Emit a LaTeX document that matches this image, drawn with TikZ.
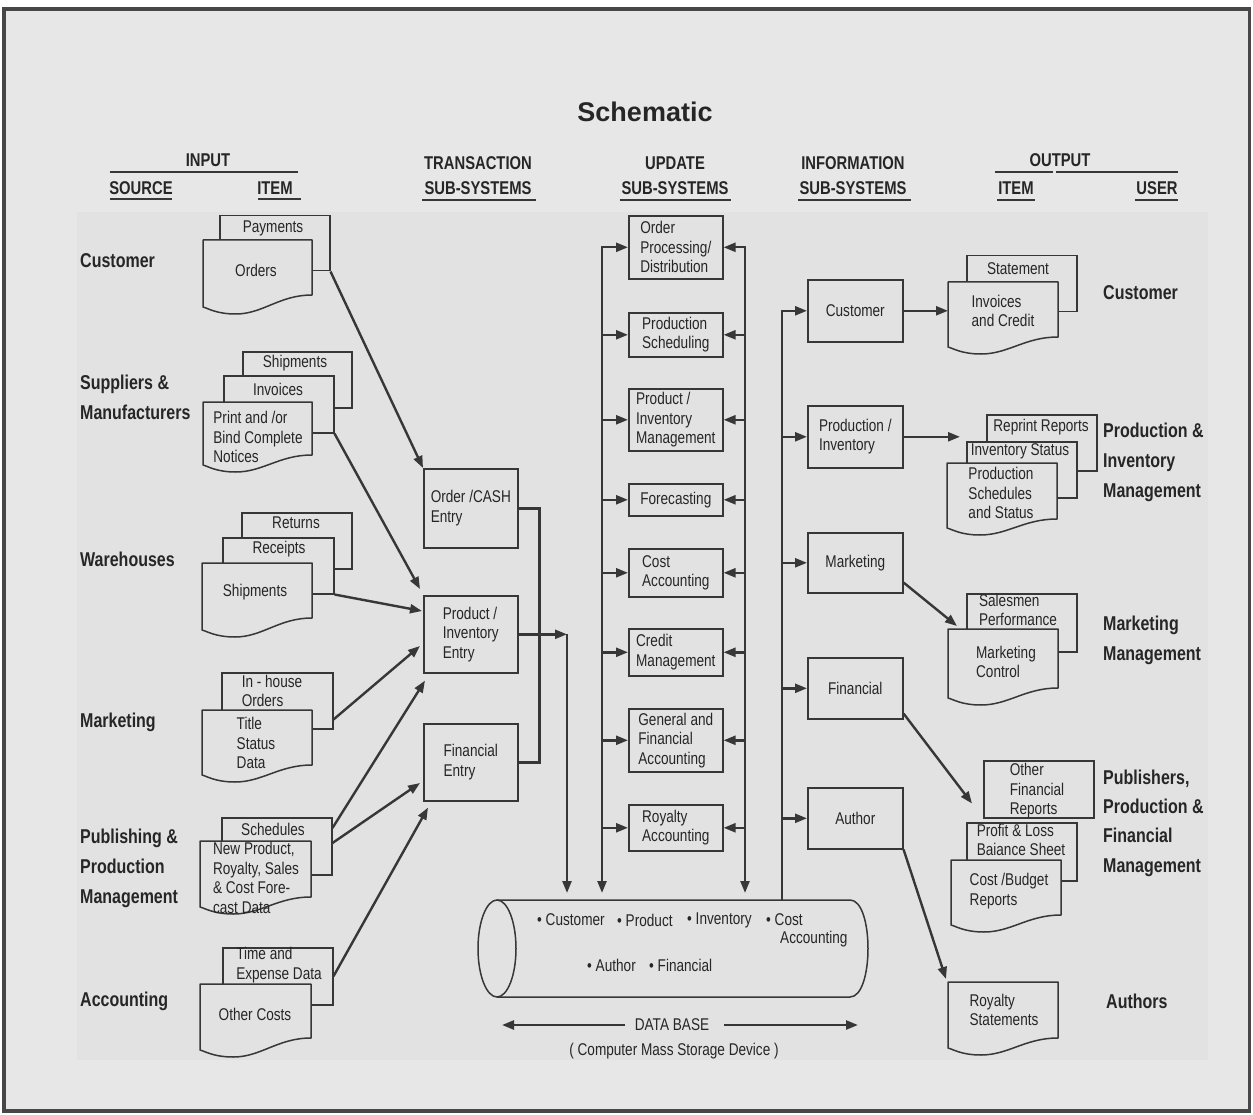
\documentclass[tikz,border=0pt]{standalone}
\usepackage{fontspec}
\setmainfont{Liberation Sans}[FakeStretch=0.8]
\newfontfamily\titlefont{Liberation Sans}
\usetikzlibrary{arrows.meta,calc}
\definecolor{bgout}{RGB}{231,231,231}
\definecolor{bgin}{RGB}{226,226,226}
\definecolor{lc}{RGB}{55,55,55}
\definecolor{tc}{RGB}{38,38,38}
\newcommand\fsz[2]{\fontsize{#1}{#2}\selectfont}
\tikzset{
  txt/.style={text=tc, font=\fsz{17}{19.5}, inner sep=0, align=left},
  hdr/.style={text=tc, font=\bfseries\fsz{18.5}{25}, inner sep=0},
  lab/.style={text=tc, font=\bfseries\fsz{20}{30}, inner sep=0, align=left, anchor=west},
  pbox/.style={draw=lc, line width=1.6, fill=bgin, anchor=north west, text=tc, font=\fsz{17}{19.5}, align=left, inner sep=0},
  bdoc/.style={draw=lc, line width=1.5, fill=bgin, anchor=north west, inner sep=0},
  fdocn/.style={anchor=north west, inner sep=0, outer sep=0},
  docline/.style={draw=lc, line width=1.5, fill=bgin, line join=round},
  uline/.style={draw=lc, line width=1.8},
  conn/.style={draw=lc, line width=2.4},
  tip/.tip={Triangle[length=12pt,width=9pt]},
  arr/.style={conn, -tip},
}
\newcommand\pboxat[6]{\node[pbox, minimum width=#4, minimum height=#5] (#1) at (#2,#3) {#6};}
\newcommand\backdoc[8]{%
  \node[bdoc, minimum width={#4-#2}, minimum height={#5-#3}] (#1) at (#2,#3) {};
  \node[txt] (#1-t) at (#6,#7) {#8};}
\newcommand\frontdoc[9]{%
  \path[docline] (#2,#6) -- (#2,#3) -- (#4,#3) -- (#4,#5)
    .. controls ({#4-0.3*(#4-#2)},#5) and ({#2+0.55*(#4-#2)},{#6+7}) .. ({#2+0.3*(#4-#2)},{#6+7})
    .. controls ({#2+0.12*(#4-#2)},{#6+7}) and ({#2+0.04*(#4-#2)},{#6+1}) .. (#2,#6) -- cycle;
  \node[fdocn, minimum width={#4-#2}, minimum height={#5-#3}] (#1) at (#2,#3) {};
  \node[txt] (#1-t) at (#7,#8) {#9};}
\begin{document}
\begin{tikzpicture}[x=1pt,y=-1pt]
\path[use as bounding box, fill=white] (0,0) rectangle (1253,1115);
\filldraw[fill=bgout, draw=black!72, line width=3.5] (4,9) rectangle (1249.5,1111);
\fill[bgin] (77,212) rectangle (1208,1060);

% title and headings
\node[text=tc, font=\titlefont\bfseries\fsz{27}{30}, inner sep=0] (title) at (645,112) {Schematic};
\node[hdr] (hinput) at (208,160) {INPUT};
\draw[uline] (110,172) -- (298,172);
\node[hdr] (hsource) at (141,188) {SOURCE};
\draw[uline] (110,199) -- (172,199);
\node[hdr] (hitem) at (275,188) {ITEM};
\draw[uline] (258,199) -- (301,199);
\node[hdr] (htrans1) at (478,163) {TRANSACTION};
\node[hdr] (htrans2) at (478,188) {SUB-SYSTEMS};
\draw[uline] (422,200) -- (536,200);
\node[hdr] (hupd1) at (675,163) {UPDATE};
\node[hdr] (hupd2) at (675,188) {SUB-SYSTEMS};
\draw[uline] (620,200) -- (731,200);
\node[hdr] (hinfo1) at (853,163) {INFORMATION};
\node[hdr] (hinfo2) at (853,188) {SUB-SYSTEMS};
\draw[uline] (798,200) -- (911,200);
\node[hdr] (houtput) at (1060,160) {OUTPUT};
\draw[uline] (995,172) -- (1053,172);
\draw[uline] (1056,172) -- (1178,172);
\node[hdr] (hoitem) at (1016,188) {ITEM};
\draw[uline] (997,200) -- (1035,200);
\node[hdr] (houser) at (1157,188) {USER};
\draw[uline] (1135,200) -- (1178,200);

% source labels
\node[lab] (scust) at (80,261) {Customer};
\node[lab] (ssupp) at (80,397) {Suppliers \&\\Manufacturers};
\node[lab] (sware) at (80,559) {Warehouses};
\node[lab] (smkt) at (80,722) {Marketing};
\node[lab] (spub) at (80,868) {Publishing \&\\Production\\Management};
\node[lab] (sacc) at (80,1001) {Accounting};

% user labels
\node[lab] (ucust) at (1103,293) {Customer};
\node[lab] (uprod) at (1103,462) {Production \&\\Inventory\\Management};
\node[lab] (umkt) at (1103,640) {Marketing\\Management};
\node[lab, font=\bfseries\fsz{20}{29.3}] (upub) at (1103,823) {Publishers,\\Production \&\\Financial\\Management};
\node[lab] (uauth) at (1106,1001) {Authors};

% input documents
\backdoc{payments}{219}{215}{329}{270}{273}{228}{Payments}
\frontdoc{orders}{203}{240}{312}{295}{307}{256}{270}{Orders}

\backdoc{shipa}{242}{351}{351}{407}{295}{363}{Shipments}
\backdoc{invoices}{223}{375}{333}{432}{278}{389}{Invoices}
\frontdoc{printbind}{203}{402}{312}{455}{465}{258}{437}{Print and /or\\Bind Complete\\Notices}

\backdoc{returns}{241}{512}{351}{568}{296}{523}{Returns}
\backdoc{receipts}{222}{537}{333}{593}{279}{549}{Receipts}
\frontdoc{whship}{202}{563}{312}{618}{630}{255}{592}{Shipments}

\backdoc{inhouse}{221}{672}{332}{728}{272}{691}{\fsz{17}{18}In - house\\Orders}
\frontdoc{titlestat}{202}{710}{312}{765}{775}{256}{743}{Title\\Status\\Data}

\backdoc{schedules}{221}{817}{331}{874}{273}{829}{Schedules}
\frontdoc{newprod}{200}{841}{311}{897}{907}{256}{878}{\fsz{17}{17.5}New Product,\\Royalty, Sales\\\& Cost Fore-\\cast Data}

\backdoc{timeexp}{222}{947}{332}{1004}{279}{965}{\fsz{17}{17.5}Time and\\Expense Data}
\frontdoc{othercosts}{200}{984}{311}{1038}{1050}{255}{1014}{Other Costs}

% transaction sub-systems
\pboxat{ocash}{423}{468}{94}{79}{Order /CASH\\Entry}
\pboxat{pientry}{423}{595}{94}{77}{Product /\\Inventory\\Entry}
\pboxat{finentry}{423}{723}{94}{77}{Financial\\Entry}

% update sub-systems
\pboxat{ordproc}{628}{215}{94}{63}{Order\\Processing/\\Distribution}
\pboxat{prodsched}{628}{312}{94}{44}{Production\\Scheduling}
\pboxat{pimgmt}{628}{388}{94}{62}{Product /\\Inventory\\Management}
\pboxat{forecast}{628}{483}{94}{32}{Forecasting}
\pboxat{costacc}{628}{548}{94}{48}{Cost\\Accounting}
\pboxat{credit}{628}{628}{94}{47}{Credit\\Management}
\pboxat{genfin}{628}{708}{94}{63}{General and\\Financial\\Accounting}
\pboxat{royacc}{628}{804}{94}{46}{Royalty\\Accounting}

% information sub-systems
\pboxat{icust}{807}{279}{95}{62}{Customer}
\pboxat{iprodinv}{807}{405}{95}{62}{Production /\\Inventory}
\pboxat{imkt}{807}{532}{95}{60}{Marketing}
\pboxat{ifin}{807}{657}{95}{61}{Financial}
\pboxat{iauthor}{807}{787}{95}{61}{Author}

% output documents
\backdoc{statement}{966}{255}{1076}{311}{1018}{269}{Statement}
\frontdoc{invcredit}{948}{282}{1058}{337}{347}{1003}{311}{Invoices\\and Credit}

\backdoc{reprint}{986}{414}{1096}{470}{1041}{427}{Reprint Reports}
\backdoc{invstatus}{966}{441}{1076}{497}{1020}{451}{Inventory Status}
\frontdoc{prodschedout}{947}{463}{1057}{519}{528}{1001}{493}{Production\\Schedules\\and Status}

\backdoc{salesmen}{966}{593}{1076}{651}{1018}{610}{\fsz{17}{18}Salesmen\\Performance}
\frontdoc{mktctrl}{948}{629}{1058}{688}{698}{1006}{662}{Marketing\\Control}

\backdoc{otherfin}{983}{760}{1093}{817}{1037}{791}{Other\\Financial\\Reports}
\backdoc{profitloss}{966}{822}{1076}{880}{1021}{840}{\fsz{17}{18}Profit \& Loss\\Baiance Sheet}
\frontdoc{costbudget}{951}{860}{1061}{915}{925}{1009}{891}{Cost /Budget\\Reports}

\frontdoc{royst}{948}{982}{1058}{1038}{1048}{1004}{1010}{Royalty\\Statements}

% data base
\node[inner sep=0, minimum width=390, minimum height=97, anchor=north west] (db) at (478,900) {};
\draw[lc, line width=1.5] (497,900) -- (850,900) .. controls (874,900) and (874,997) .. (850,997) -- (497,997);
\draw[lc, line width=1.5] (497,948.5) ellipse [x radius=19, y radius=48.5];
\node[txt, anchor=west] (dbc) at (537,920) {\textbullet\ Customer};
\node[txt, anchor=west] (dbp) at (617,920) {\textbullet\ Product};
\node[txt, anchor=west] (dbi) at (687,920) {\textbullet\ Inventory};
\node[txt, anchor=west] (dbk) at (766,920) {\textbullet\ Cost};
\node[txt, anchor=west] (dbk2) at (780,939) {Accounting};
\node[txt, anchor=west] (dba) at (587,965) {\textbullet\ Author};
\node[txt, anchor=west] (dbf) at (649,965) {\textbullet\ Financial};
\node[txt] (dbase) at (672,1025) {DATA BASE};
\coordinate (dbl) at (502,1025);
\coordinate (dbr) at (858,1025);
\draw[arr] ($(dbase.west)+(-10,0)$) -- (dbl);
\draw[arr] ($(dbase.east)+(15,0)$) -- (dbr);
\node[txt] (cmsd) at (674,1051) {( Computer Mass Storage Device )};

% connectors input -> transaction
\draw[arr] (payments.south east) -- (ocash.north west);
\draw[arr] (invoices.south east) -- ($(pientry.north west)+(-3,-6)$);
\draw[arr] (receipts.south east) -- ($(pientry.north west)+(-1,16)$);
\draw[arr] ($(inhouse.south east)+(0,-10)$) -- ($(pientry.north west)+(-3,51)$);
\draw[arr] ($(schedules.north east)+(0,11)$) -- ($(pientry.south west)+(2,7)$);
\draw[arr] ($(schedules.north east)+(0,26)$) -- ($(finentry.north west)+(-3,60)$);
\draw[arr] (timeexp.east) -- ($(finentry.south west)+(5,6)$);

% transaction -> data base
\coordinate (tj) at (567,0);
\draw[conn] (ocash.east) -- ++(21,0) |- (finentry.east);
\draw[arr] (pientry.east) -- (pientry.east -| tj);
\draw[arr, shorten >=7pt] (pientry.east -| tj) -- (tj |- db.north);

% update buses
\coordinate (lb) at (602,0);
\coordinate (rb) at (745,0);
\draw[conn, tip-tip, shorten >=7pt] (ordproc.west) -| (lb |- db.north);
\draw[conn, tip-tip, shorten >=7pt] (ordproc.east) -| (rb |- db.north);
\foreach \b in {prodsched,pimgmt,forecast,costacc,credit,genfin,royacc}{
  \draw[arr] (\b.west -| lb) -- (\b.west);
  \draw[arr] (\b.east -| rb) -- (\b.east);
}

% information bus
\coordinate (ib) at (782,0);
\draw[arr] (ib |- db.north) |- (icust.west);
\foreach \b in {iprodinv,imkt,ifin,iauthor}{
  \draw[arr] (\b.west -| ib) -- (\b.west);
}

% information -> output
\draw[arr] (icust.east) -- (icust.east -| invcredit.west);
\draw[arr, shorten >=6pt] (iprodinv.east) -- (iprodinv.east -| invstatus.west);
\draw[arr] ($(imkt.south east)+(0,-11)$) -- ($(mktctrl.north west)+(9,-3)$);
\draw[arr] ($(ifin.south east)+(0,-6)$) -- ($(otherfin.south west)+(-11,-15)$);
\draw[arr] (iauthor.south east) -- ($(royst.north west)+(-2,-3)$);
\end{tikzpicture}
\end{document}
